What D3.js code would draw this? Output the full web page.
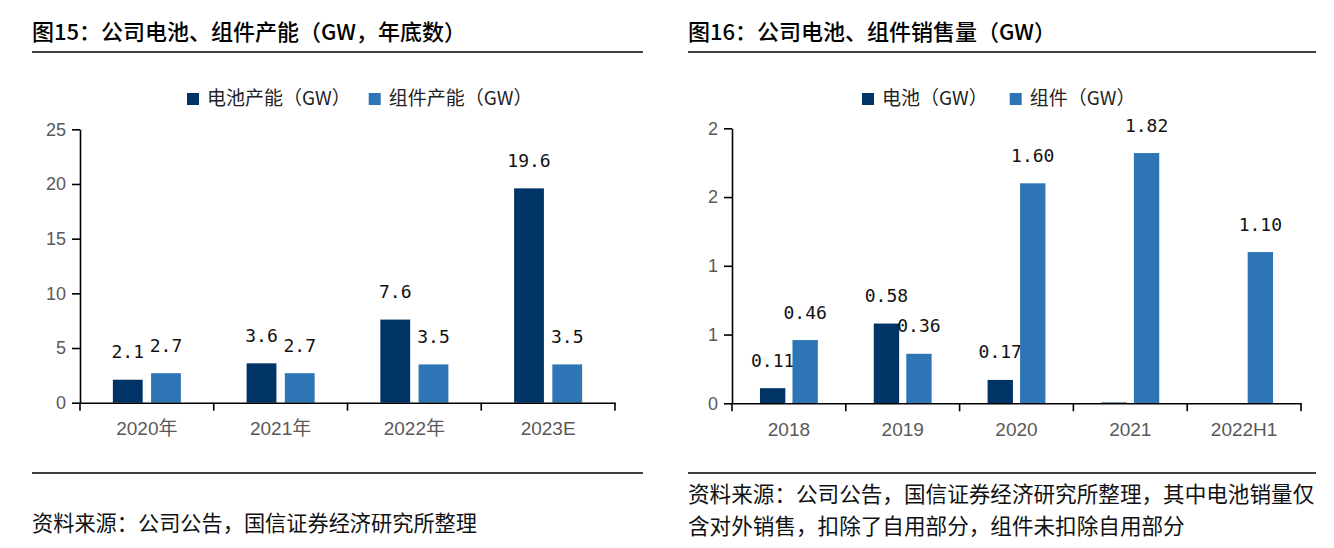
<!DOCTYPE html>
<html><head><meta charset="utf-8">
<script src="https://cdn.jsdelivr.net/npm/d3@7"></script>
<style>body{margin:0;background:#fff}svg{display:block}</style>
</head><body>
<svg id="c" width="1334" height="548"></svg>
<script>
// ---------- data ----------
const capTitle = "图15：公司电池、组件产能（GW，年底数）";
const capSeries = ["电池产能（GW）", "组件产能（GW）"];
const capCategories = ["2020年", "2021年", "2022年", "2023E"];
const capBattery = [2.1, 3.6, 7.6, 19.6];
const capModule = [2.7, 2.7, 3.5, 3.5];
const capBatteryLabels = ["2.1", "3.6", "7.6", "19.6"];
const capModuleLabels = ["2.7", "2.7", "3.5", "3.5"];
const capYTicks = [0, 5, 10, 15, 20, 25];
const capYTickLabels = ["0", "5", "10", "15", "20", "25"];
const capSource = ["资料来源：公司公告，国信证券经济研究所整理"];

const salesTitle = "图16：公司电池、组件销售量（GW）";
const salesSeries = ["电池（GW）", "组件（GW）"];
const salesCategories = ["2018", "2019", "2020", "2021", "2022H1"];
const salesBattery = [0.11, 0.58, 0.17, 0.006, 0];
const salesModule = [0.46, 0.36, 1.60, 1.82, 1.10];
const salesBatteryLabels = ["0.11", "0.58", "0.17", "", ""];
const salesModuleLabels = ["0.46", "0.36", "1.60", "1.82", "1.10"];
const salesYTicks = [0, 0.5, 1, 1.5, 2];
const salesYTickLabels = ["0", "1", "1", "2", "2"];
const salesSource = ["资料来源：公司公告，国信证券经济研究所整理，其中电池销量仅", "含对外销售，扣除了自用部分，组件未扣除自用部分"];

// ---------- style ----------
const CJK = "'Noto Sans CJK SC', 'Noto Sans', sans-serif";
const NUM = "'Liberation Sans', Arial, 'Noto Sans CJK SC', sans-serif";
const MONO = "'DejaVu Sans Mono', 'Liberation Mono', monospace";
const colors = ["#003366", "#2E75B6"];
const svg = d3.select("#c");

function panel(o) {
  const g = svg.append("g");
  g.append("text").attr("x", o.left).attr("y", 40)
    .attr("font-family", CJK).attr("font-size", o.titleSize).attr("font-weight", 500)
    .attr("fill", "#000").text(o.title);
  [52, 473].forEach(yy => g.append("line")
    .attr("x1", o.left).attr("x2", o.right).attr("y1", yy).attr("y2", yy)
    .attr("stroke", "#404040").attr("stroke-width", 2));

  // legend
  const lg = g.append("g").attr("transform", `translate(${o.legendX},0)`);
  let cx = 0;
  o.series.forEach((s, i) => {
    lg.append("rect").attr("x", cx).attr("y", 93).attr("width", 12).attr("height", 12).attr("fill", colors[i]);
    const t = lg.append("text").attr("x", cx + 20).attr("y", 105)
      .attr("font-family", CJK).attr("font-size", 19).attr("fill", "#222").text(s);
    cx += 20 + t.node().getComputedTextLength() + o.legendGap;
  });

  const x = d3.scaleBand().domain(o.categories).range([o.x0, o.x1]);
  const xi = d3.scaleBand().domain([0, 1]).range([0, x.bandwidth()]).paddingInner(0.22).paddingOuter(0.86);
  const y = d3.scaleLinear().domain([0, o.yTicks[o.yTicks.length - 1]]).range([o.yBottom, o.yTop]);

  const series = [o.battery, o.module];
  const labels = [o.batteryLabels, o.moduleLabels];
  series.forEach((vals, si) => {
    g.append("g").selectAll("rect").data(vals).join("rect")
      .attr("x", (d, i) => x(o.categories[i]) + xi(si))
      .attr("width", xi.bandwidth())
      .attr("y", d => y(d))
      .attr("height", d => y(0) - y(d))
      .attr("fill", colors[si]);
    g.append("g").selectAll("text").data(vals).join("text")
      .attr("x", (d, i) => x(o.categories[i]) + xi(si) + xi.bandwidth() / 2)
      .attr("y", d => y(d) - 28)
      .attr("dy", "0.36em")
      .attr("text-anchor", "middle")
      .attr("font-family", MONO).attr("font-size", 18).attr("fill", "#111")
      .text((d, i) => labels[si][i]);
  });

  // y axis
  const ya = g.append("g").attr("transform", `translate(${o.x0},0)`)
    .call(d3.axisLeft(y).tickValues(o.yTicks).tickSize(8).tickSizeOuter(0).tickPadding(6)
      .tickFormat((d, i) => o.yTickLabels[i]));
  ya.selectAll("path,line").attr("stroke", "#000").attr("stroke-width", 1.6);
  ya.selectAll("text").attr("font-family", NUM).attr("font-size", 18).attr("fill", "#595959");

  // x axis
  const xa = g.append("g").attr("transform", `translate(0,${y(0)})`)
    .call(d3.axisBottom(x).tickSize(0).tickSizeOuter(0).tickPadding(19));
  xa.select("path").attr("stroke", "#000").attr("stroke-width", 1.6);
  xa.selectAll("text").attr("font-family", NUM).attr("font-size", 19).attr("fill", "#595959");
  const bounds = o.categories.map(c => x(c)).concat([x.range()[1]]);
  xa.selectAll("line.b").data(bounds).join("line").attr("class", "b")
    .attr("x1", d => d).attr("x2", d => d).attr("y1", 0).attr("y2", 8)
    .attr("stroke", "#000").attr("stroke-width", 1.6);

  // source (one text block, one tspan per line)
  const st = g.append("text").attr("x", o.left).attr("y", o.sourceY)
    .attr("font-family", CJK).attr("font-size", o.sourceSize).attr("fill", "#111");
  o.source.forEach((s, i) => st.append("tspan").attr("x", o.left).attr("dy", i === 0 ? 0 : o.sourceSize * 1.46).text(s));
}

panel({
  title: capTitle, titleSize: 22, left: 32, right: 643, series: capSeries, legendX: 187, legendGap: 18,
  categories: capCategories, battery: capBattery, module: capModule,
  batteryLabels: capBatteryLabels, moduleLabels: capModuleLabels,
  yTicks: capYTicks, yTickLabels: capYTickLabels,
  x0: 80, x1: 615, yBottom: 402.7, yTop: 129.3, source: capSource, sourceY: 531, sourceSize: 21.2
});
panel({
  title: salesTitle, titleSize: 22, left: 688, right: 1316, series: salesSeries, legendX: 862, legendGap: 22,
  categories: salesCategories, battery: salesBattery, module: salesModule,
  batteryLabels: salesBatteryLabels, moduleLabels: salesModuleLabels,
  yTicks: salesYTicks, yTickLabels: salesYTickLabels,
  x0: 732, x1: 1301, yBottom: 403.3, yTop: 128.3, source: salesSource, sourceY: 502, sourceSize: 21.6
});
</script>
</body></html>
